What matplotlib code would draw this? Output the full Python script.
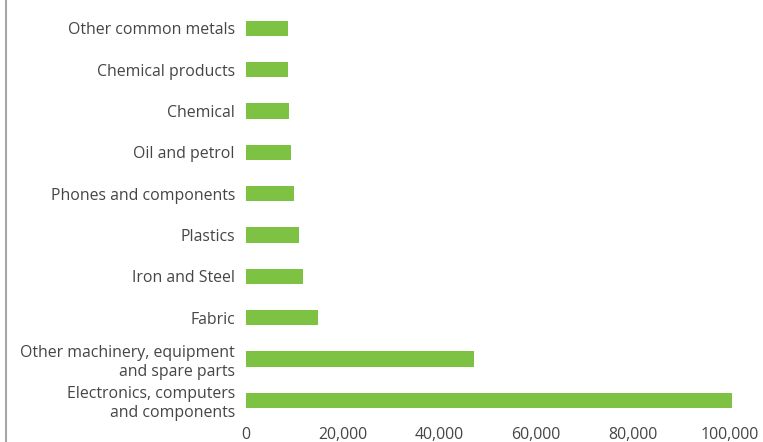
import matplotlib.pyplot as plt
from matplotlib.lines import Line2D
from matplotlib.ticker import FuncFormatter

plt.rcParams['font.family'] = ['Open Sans', 'DejaVu Sans']

# categories from bottom to top
categories = [
    'Electronics, computers\nand components',
    'Other machinery, equipment\nand spare parts',
    'Fabric',
    'Iron and Steel',
    'Plastics',
    'Phones and components',
    'Oil and petrol',
    'Chemical',
    'Chemical products',
    'Other common metals',
]
values = [100500, 47200, 14900, 11800, 11000, 9900, 9300, 8900, 8700, 8700]
xticks = [0, 20000, 40000, 60000, 80000, 100000]

fig = plt.figure(figsize=(7.63, 4.42), dpi=100)
ax = fig.add_axes([0.3224, 0.0475, 0.6676, 0.9355])

ax.barh(range(len(categories)), values, height=0.37, color='#7dc242')
ax.set_yticks(range(len(categories)))
ax.set_yticklabels(categories, linespacing=1.25)
ax.set_ylim(-0.5, len(categories) - 0.5)
ax.set_xlim(0, 105400)
ax.set_xticks(xticks)
ax.xaxis.set_major_formatter(FuncFormatter(lambda v, p: f'{int(v):,}'))

for s in ax.spines.values():
    s.set_visible(False)
ax.tick_params(axis='both', length=0, labelsize=11.4, colors='#454545')
ax.tick_params(axis='y', pad=8)
ax.tick_params(axis='x', pad=4)

# grey border line on the left of the figure
fig.add_artist(Line2D([0.008, 0.008], [0, 1], color='#a6a6a6', lw=1.5))

fig.savefig('out.png', dpi=100)
